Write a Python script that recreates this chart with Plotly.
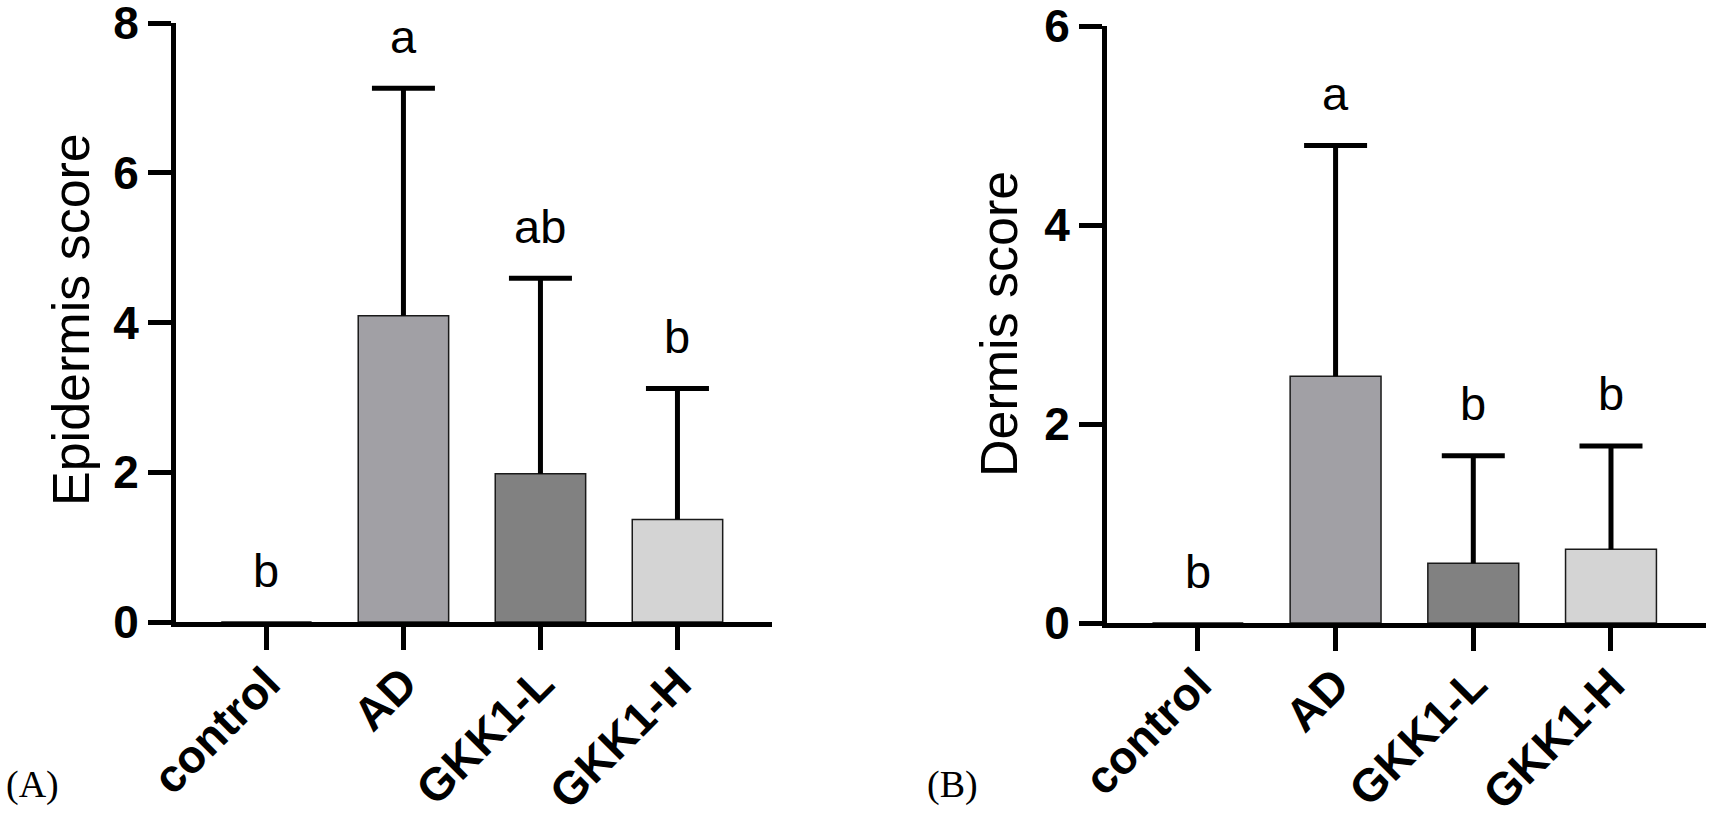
import plotly.graph_objects as go

# groups and scores (mean + SD, upper error bar only)
groups = ["control", "AD", "GKK1-L", "GKK1-H"]
bar_colors = ["#ffffff", "#a1a0a5", "#818181", "#d4d4d4"]

epi_mean = [0, 4.09, 1.98, 1.37]
epi_sd = [0, 3.04, 2.61, 1.75]
epi_letters = ["b", "a", "ab", "b"]

derm_mean = [0, 2.48, 0.60, 0.74]
derm_sd = [0, 2.32, 1.08, 1.04]
derm_letters = ["b", "a", "b", "b"]

W, H = 1713, 835
SANS = "Liberation Sans, Arial, sans-serif"
SERIF = "Liberation Serif, Times New Roman, serif"


def px_x(v):
    return v / W


def px_y(v):
    return (H - v) / H


def add_panel(fig, means, sds, letters, xa, ya):
    fig.add_trace(go.Bar(
        x=groups, y=means, xaxis=xa, yaxis=ya,
        width=0.66,
        marker=dict(color=bar_colors, line=dict(color="#1a1a1a", width=1.5)),
        showlegend=False, hoverinfo="skip",
    ))
    # upper SD only (stem from bar top + cap), skipped where SD is zero
    keep = [i for i, s in enumerate(sds) if s > 0]
    stem_x, stem_y = [], []
    for i in keep:
        stem_x += [groups[i], groups[i], None]
        stem_y += [means[i], means[i] + sds[i], None]
    fig.add_trace(go.Scatter(
        x=stem_x, y=stem_y, xaxis=xa, yaxis=ya, mode="lines",
        line=dict(color="black", width=5), showlegend=False, hoverinfo="skip",
    ))
    fig.add_trace(go.Scatter(
        x=[groups[i] for i in keep], y=[means[i] + sds[i] for i in keep],
        xaxis=xa, yaxis=ya, mode="markers",
        marker=dict(symbol="line-ew", size=45, color="black",
                    line=dict(color="black", width=5)),
        showlegend=False,
    ))
    for g, m, s, lab in zip(groups, means, sds, letters):
        fig.add_annotation(
            x=g, y=m + s, xref=xa, yref=ya, text=lab, showarrow=False,
            yshift=52, yanchor="middle",
            font=dict(family=SANS, size=47, color="black"),
        )


fig = go.Figure()
add_panel(fig, epi_mean, epi_sd, epi_letters, "x", "y")
add_panel(fig, derm_mean, derm_sd, derm_letters, "x2", "y2")

axis_common = dict(
    showline=True, linecolor="black", linewidth=5,
    ticks="outside", ticklen=23, tickwidth=5, tickcolor="black",
    showgrid=False, zeroline=False, automargin=False,
    ticklabeloverflow="allow",
    tickfont=dict(family=SANS, size=46, color="black", weight="bold"),
)
x_common = dict(range=[-0.66, 3.69], tickangle=-45, ticklabelstandoff=-12,
                **axis_common)

fig.update_layout(
    width=W, height=H,
    margin=dict(l=0, r=0, t=0, b=0),
    paper_bgcolor="white", plot_bgcolor="white",
    xaxis=dict(domain=[px_x(176), px_x(772)], anchor="y", **x_common),
    yaxis=dict(domain=[px_y(622), px_y(23)], range=[0, 8],
               tickvals=[0, 2, 4, 6, 8], anchor="x", **axis_common),
    xaxis2=dict(domain=[px_x(1107), px_x(1706)], anchor="y2", **x_common),
    yaxis2=dict(domain=[px_y(623), px_y(26)], range=[0, 6],
                tickvals=[0, 2, 4, 6], anchor="x2", **axis_common),
)

# axis titles
fig.add_annotation(x=px_x(71), y=px_y(320), xref="paper", yref="paper",
                   text="Epidermis score", textangle=-90, showarrow=False,
                   xanchor="center", yanchor="middle",
                   font=dict(family=SANS, size=52, color="black"))
fig.add_annotation(x=px_x(999), y=px_y(324), xref="paper", yref="paper",
                   text="Dermis score", textangle=-90, showarrow=False,
                   xanchor="center", yanchor="middle",
                   font=dict(family=SANS, size=52, color="black"))

# panel labels
fig.add_annotation(x=px_x(4), y=px_y(808), xref="paper", yref="paper",
                   text="(A)", showarrow=False, xanchor="left",
                   font=dict(family=SERIF, size=38, color="black"))
fig.add_annotation(x=px_x(925), y=px_y(808), xref="paper", yref="paper",
                   text="(B)", showarrow=False, xanchor="left",
                   font=dict(family=SERIF, size=38, color="black"))

# page body has a default margin; drop it so the figure fills the window
fig.write_html("out.html", config={"displayModeBar": False},
               post_script="document.body.style.margin='0';")
